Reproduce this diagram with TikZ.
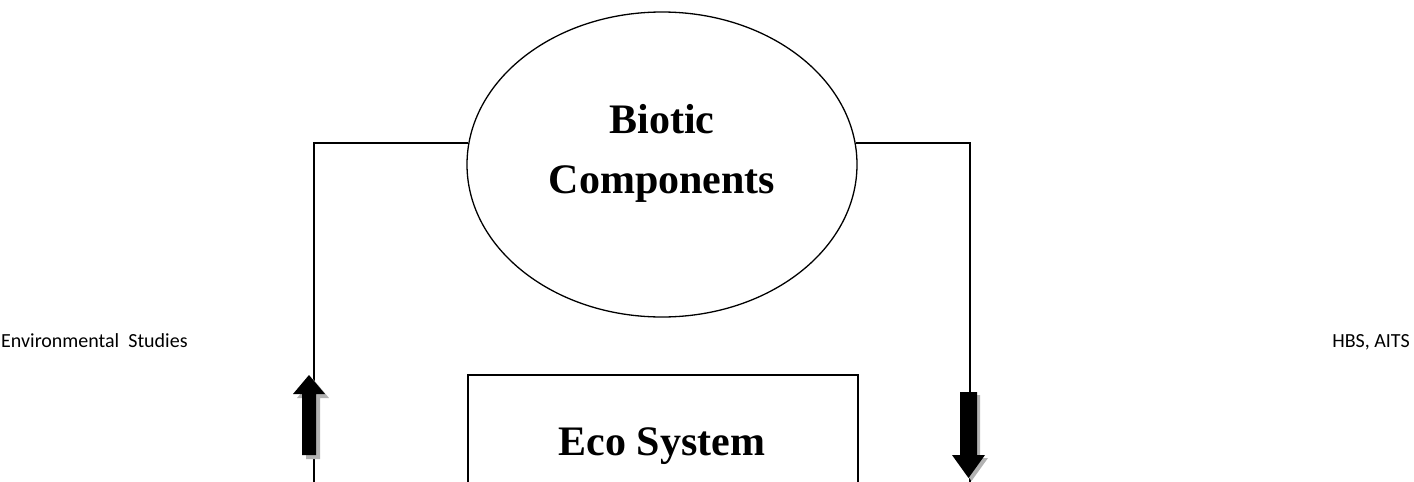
\documentclass[tikz,border=0pt]{standalone}
\usepackage{fontspec}
\setmainfont{Liberation Serif}
\newfontfamily\calib{Carlito}
\usetikzlibrary{shapes.geometric,calc}
\begin{document}
\begin{tikzpicture}[x=1pt,y=-1pt,
  conn/.style={line width=1.1pt},
  bubble/.style={ellipse, draw, line width=1.3pt, minimum width=390pt, minimum height=305pt, inner sep=0pt},
  ecobox/.style={draw, line width=1.6pt, minimum width=390pt, minimum height=200pt, inner sep=0pt, anchor=north west},
  bigtxt/.style={font=\bfseries\fontsize{42}{50}\selectfont, anchor=base, inner sep=0pt},
  hdr/.style={font=\calib\fontsize{20}{24}\selectfont, inner sep=0pt},
  blockarrow/.style={fill=black},
  arrowshadow/.style={fill=black!30},
]
\useasboundingbox (0,0) rectangle (1414,482);
\clip (0,0) rectangle (1414,482);
% header texts
\node[hdr, anchor=base west] (hl) at (1,347) {Environmental\ \ Studies};
\node[hdr, anchor=base east] (hr) at (1410,347) {HBS, AITS};
% ellipse
\node[bubble] (bio) at (662,164.5) {};
\node[bigtxt] (bio1) at (662,133) {Biotic};
\node[bigtxt] (bio2) at (662,193) {Components};
% box
\node[ecobox] (eco) at (467,374) {};
\node[bigtxt] (ecolbl) at (662,455) {Eco System};
% connectors
\coordinate (ltop) at (314,143);
\coordinate (lbot) at (314,490);
\coordinate (rtop) at (970,143);
\coordinate (rbot) at (970,490);
\draw[conn] ($(ltop -| bio.west)+(2,0)$) -- (ltop) -- (lbot);
\draw[conn] ($(rtop -| bio.east)+(-2,0)$) -- (rtop) -- (rbot);
% block arrows
\path[arrowshadow, shift={(4,4)}] (309,375) -- (325,394) -- (316,394) -- (316,455) -- (302,455) -- (302,394) -- (293,394) -- cycle;
\path[blockarrow] (309,375) -- (325,394) -- (316,394) -- (316,455) -- (302,455) -- (302,394) -- (293,394) -- cycle;
\path[arrowshadow, shift={(3,3)}] (960,392) -- (977,392) -- (977,455) -- (985,455) -- (968.5,478) -- (952,455) -- (960,455) -- cycle;
\path[blockarrow] (960,392) -- (977,392) -- (977,455) -- (985,455) -- (968.5,478) -- (952,455) -- (960,455) -- cycle;
\end{tikzpicture}
\end{document}
